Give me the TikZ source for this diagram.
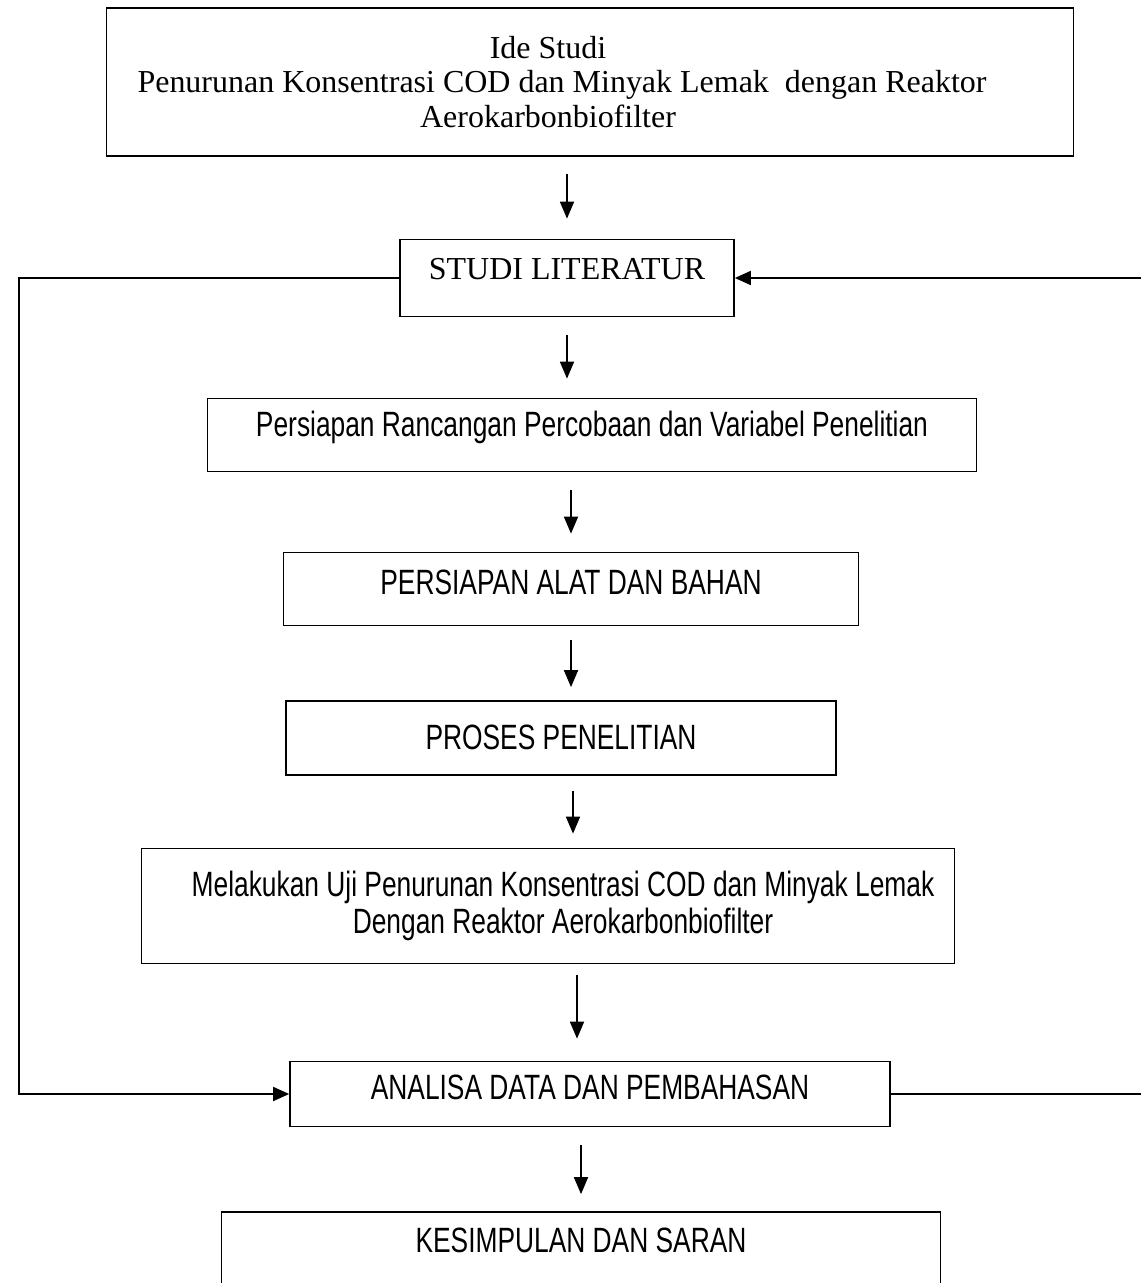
\documentclass[tikz,border=0pt]{standalone}
\usepackage{fontspec}
\setmainfont{Liberation Serif}
\newfontfamily\narrowsans[FakeStretch=0.75]{Liberation Sans}
\usetikzlibrary{arrows.meta}
\newcommand{\serifsize}{\fontsize{18.2}{19.6}\selectfont}
\newcommand{\sanssize}{\narrowsans\fontsize{20}{21}\selectfont}

\begin{document}
\begin{tikzpicture}[x=0.02cm,y=-0.02cm,
    box/.style={draw,line width=1pt,inner sep=0pt},
    flow/.style={-{Triangle[length=0.34cm,width=0.28cm]},line width=1pt},
    backflow/.style={-{Triangle[length=0.32cm,width=0.28cm]},line width=1pt}]
    \useasboundingbox (0,0) rectangle (1140,1283);

    \node[box,minimum width=19.34cm,minimum height=2.96cm] (ide) at (590,82) {};
    \node[align=center,inner sep=0pt,font=\serifsize] (idetext) at ([xshift=-0.56cm]ide.center)
      {Ide Studi\hspace*{0.56cm}\\Penurunan Konsentrasi COD dan Minyak Lemak\ \ dengan Reaktor\\Aerokarbonbiofilter\hspace*{0.56cm}};
    \node[box,minimum width=6.68cm,text height=0.8cm,text depth=0.74cm,font=\serifsize] (studi) at (567,278) {STUDI LITERATUR};
    \node[box,minimum width=15.38cm,text height=0.76cm,text depth=0.7cm,font=\sanssize] (rancang) at (592,435) {Persiapan Rancangan Percobaan dan Variabel Penelitian};
    \node[box,minimum width=11.5cm,text height=0.84cm,text depth=0.62cm,font=\sanssize] (alat) at (571,589) {PERSIAPAN ALAT DAN BAHAN};
    \node[box,minimum width=11cm,text height=0.96cm,text depth=0.52cm,font=\sanssize] (proses) at (561,738) {PROSES PENELITIAN};
    \node[box,minimum width=16.26cm,minimum height=2.3cm,align=center,font=\sanssize] (uji) at (548,906)
      {\hspace*{0.6cm}Melakukan Uji Penurunan Konsentrasi COD dan Minyak Lemak\\\hspace*{0.6cm}Dengan Reaktor Aerokarbonbiofilter};
    \node[box,minimum width=12cm,text height=0.76cm,text depth=0.54cm,font=\sanssize] (analisa) at (590,1094) {ANALISA DATA DAN PEMBAHASAN};
    \node[box,minimum width=14.38cm,text height=0.8cm,text depth=0.76cm,font=\sanssize] (simpul) at (581,1251) {KESIMPULAN DAN SARAN};

    % alur utama
    \draw [flow,shorten <=0.34cm,shorten >=0.4cm] (ide.south -| studi) -- (studi.north);
    \draw [flow,shorten <=0.36cm,shorten >=0.38cm] (studi.south) -- (studi.south |- rancang.north);
    \draw [flow,shorten <=0.36cm,shorten >=0.36cm] (rancang.south -| alat) -- (alat.north);
    \draw [flow,shorten <=0.28cm,shorten >=0.26cm] (alat.south) -- (alat.south |- proses.north);
    \draw [flow,shorten <=0.3cm,shorten >=0.28cm] ([xshift=0.24cm]proses.south) -- ([xshift=0.24cm]proses.south |- uji.north);
    \draw [flow,shorten <=0.22cm,shorten >=0.44cm] ([xshift=-0.26cm]analisa.north |- uji.south) -- ([xshift=-0.26cm]analisa.north);
    \draw [flow,shorten <=0.36cm,shorten >=0.34cm] (analisa.south -| simpul) -- (simpul.north);

    % umpan balik
    \draw [backflow] (studi.west) -- ++(-380,0) |- (analisa.west);
    \draw [backflow] (analisa.east) -- ++(251,0) |- (studi.east);
\end{tikzpicture}
\end{document}
